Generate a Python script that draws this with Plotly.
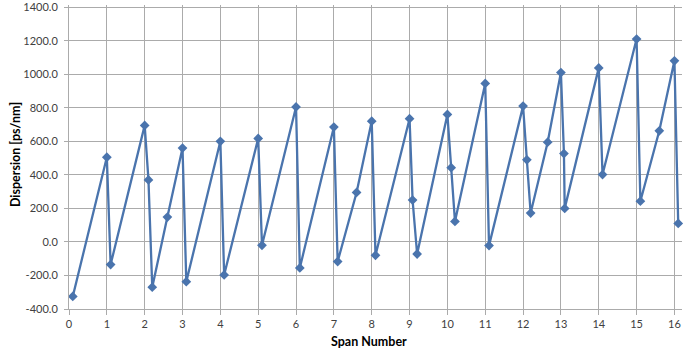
import plotly.graph_objects as go

span = [0.1, 1.0, 1.1, 2.0, 2.1, 2.2, 2.6, 3.0, 3.1, 4.0, 4.1, 5.0, 5.1, 6.0, 6.1,
        7.0, 7.1, 7.6, 8.0, 8.1, 9.0, 9.08, 9.2, 10.0, 10.1, 10.2, 11.0, 11.1,
        12.0, 12.1, 12.2, 12.65, 13.0, 13.08, 13.1, 14.0, 14.1, 15.0, 15.1, 15.6,
        16.0, 16.1]
dispersion = [-325, 505, -135, 695, 370, -270, 148, 560, -237, 600, -197, 617, -20,
              805, -155, 685, -117, 295, 720, -80, 735, 250, -72, 760, 443, 122,
              945, -22, 810, 490, 172, 595, 1010, 527, 200, 1038, 402, 1210, 243,
              663, 1080, 110]

x_ticks = list(range(0, 17))
y_ticks = [-400, -200, 0, 200, 400, 600, 800, 1000, 1200, 1400]

blue = "#4A74AD"
grid = "#ABABAB"
font = "Lato, Open Sans, sans-serif"

fig = go.Figure()
fig.add_trace(go.Scatter(
    x=span, y=dispersion, mode="lines+markers",
    line=dict(color=blue, width=2.3),
    marker=dict(symbol="diamond", size=7.5, color=blue),
    showlegend=False, cliponaxis=False,
))

fig.update_layout(
    width=693, height=352,
    margin=dict(l=69, r=11, t=5, b=43),
    paper_bgcolor="white", plot_bgcolor="white",
    font=dict(family=font, size=11, color="#404040"),
    xaxis=dict(
        range=[0, 16.2], tickvals=x_ticks, ticktext=[str(v) for v in x_ticks],
        showgrid=True, gridcolor=grid, gridwidth=1,
        showline=True, linecolor=grid, linewidth=1,
        ticks="outside", ticklen=5, tickcolor=grid,
        zeroline=False, fixedrange=True, automargin=False,
    ),
    yaxis=dict(
        range=[-400, 1413], tickvals=y_ticks,
        ticktext=[f"{v:.1f}" for v in y_ticks],
        showgrid=True, gridcolor=grid, gridwidth=1,
        showline=True, linecolor=grid, linewidth=1,
        ticks="outside", ticklen=4, tickcolor=grid,
        ticklabelstandoff=4,
        zeroline=False, fixedrange=True, automargin=False,
    ),
    annotations=[
        dict(text="<b>Span Number</b>", x=0.5, y=-0.106, xref="paper", yref="paper",
             xanchor="center", yanchor="middle", showarrow=False,
             font=dict(family=font, size=12.5, color="#000000"), xshift=-7),
        dict(text="<b>Dispersion [ps/nm]</b>", x=-0.088, y=0.5, xref="paper", yref="paper",
             xanchor="center", yanchor="middle", showarrow=False, textangle=-90,
             font=dict(family=font, size=12.5, color="#000000"), yshift=2),
    ],
)

fig.write_html("out.html")
